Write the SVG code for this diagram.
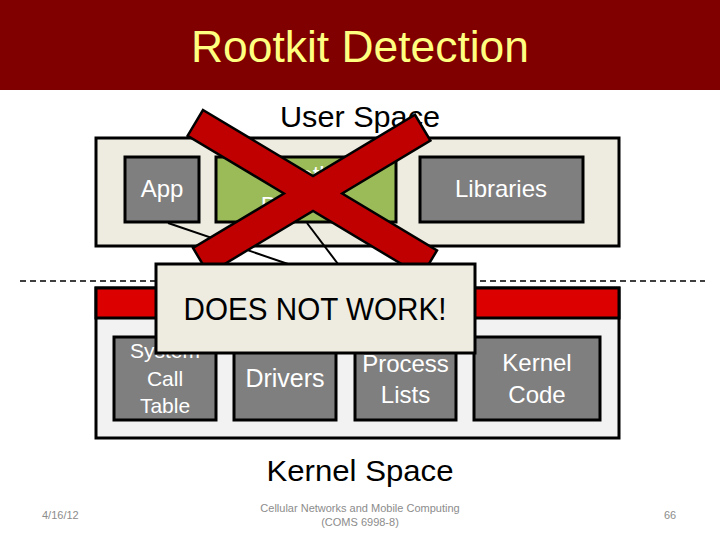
<svg xmlns="http://www.w3.org/2000/svg" width="720" height="540" viewBox="0 0 720 540">
<style>
text{font-family:"Liberation Sans",Arial,sans-serif}
.box{stroke:#000;stroke-width:3}
.gray{fill:#7F7F7F}
.wt{fill:#fff;text-anchor:middle}
.bk{fill:#000;text-anchor:middle}
.foot{fill:#8C8C8C;font-size:11px}
.conn{stroke:#000;stroke-width:2;fill:none}
</style>
<rect width="720" height="540" fill="#fff"/>
<g id="title">
<rect x="0" y="0" width="720" height="90" fill="#800000"/>
<text x="360" y="62" font-size="44" fill="#FFFF80" text-anchor="middle" textLength="338" lengthAdjust="spacingAndGlyphs">Rootkit Detection</text>
</g>
<text x="360" y="127" font-size="29" class="bk" textLength="160" lengthAdjust="spacingAndGlyphs">User Space</text>
<g id="user-space">
<rect x="96" y="138" width="523" height="108" fill="#EEECE1" class="box"/>
</g>
<line x1="20" y1="281" x2="705" y2="281" stroke="#000" stroke-width="1.5" stroke-dasharray="6 4"/>
<g id="kernel-space">
<rect x="96" y="288" width="523" height="150" fill="#F2F2F2" class="box"/>
<rect x="96" y="288" width="523" height="30" fill="#DD0000" class="box"/>
</g>
<g id="app">
<rect x="125" y="157" width="74" height="65" class="box gray"/>
<text x="162" y="197" font-size="24" class="wt">App</text>
</g>
<g id="rootkit-detector">
<rect x="216" y="157" width="180" height="65" fill="#9BBB59" class="box"/>
<text x="306" y="183" font-size="24" class="wt">Rootkit</text>
<text x="306" y="214" font-size="24" class="wt">Detector</text>
</g>
<g id="libraries">
<rect x="420" y="157" width="163" height="65" class="box gray"/>
<text x="501" y="197" font-size="24" class="wt">Libraries</text>
</g>
<g id="syscall-table">
<rect x="114" y="337" width="102" height="83" class="box gray"/>
<text x="165" y="358" font-size="21" class="wt">System</text>
<text x="165" y="386" font-size="21" class="wt">Call</text>
<text x="165" y="413" font-size="21" class="wt">Table</text>
</g>
<g id="drivers">
<rect x="234" y="337" width="102" height="83" class="box gray"/>
<text x="285" y="387" font-size="25" class="wt">Drivers</text>
</g>
<g id="process-lists">
<rect x="355" y="337" width="101" height="83" class="box gray"/>
<text x="405.5" y="372" font-size="24" class="wt">Process</text>
<text x="405.5" y="403" font-size="24" class="wt">Lists</text>
</g>
<g id="kernel-code">
<rect x="474" y="337" width="126" height="83" class="box gray"/>
<text x="537" y="371" font-size="24" class="wt">Kernel</text>
<text x="537" y="403" font-size="24" class="wt">Code</text>
</g>
<g id="connectors">
<line x1="168" y1="223" x2="288" y2="264" class="conn"/>
<line x1="307" y1="223" x2="338" y2="264" class="conn"/>
</g>
<g id="cross">
<polygon points="203,110 313,176 415,114.8 430.4,140.5 342.2,193.5 437,250.4 421.6,276.1 313,211 208.4,273.7 193,248 283.9,193.5 187.6,135.7" fill="#C00000" stroke="#000" stroke-width="2.5" stroke-linejoin="miter"/>
</g>
<g id="does-not-work">
<rect x="156" y="264" width="319" height="89" fill="#EEECE1" class="box"/>
<text x="315" y="320" font-size="31" class="bk" textLength="263" lengthAdjust="spacingAndGlyphs">DOES NOT WORK!</text>
</g>
<text x="360" y="481" font-size="30" class="bk" textLength="187" lengthAdjust="spacingAndGlyphs">Kernel Space</text>
<g id="footer">
<text x="42" y="519" class="foot">4/16/12</text>
<text x="360" y="512" class="foot" text-anchor="middle">Cellular Networks and Mobile Computing</text>
<text x="360" y="526" class="foot" text-anchor="middle">(COMS 6998-8)</text>
<text x="664" y="519" class="foot">66</text>
</g>
</svg>
